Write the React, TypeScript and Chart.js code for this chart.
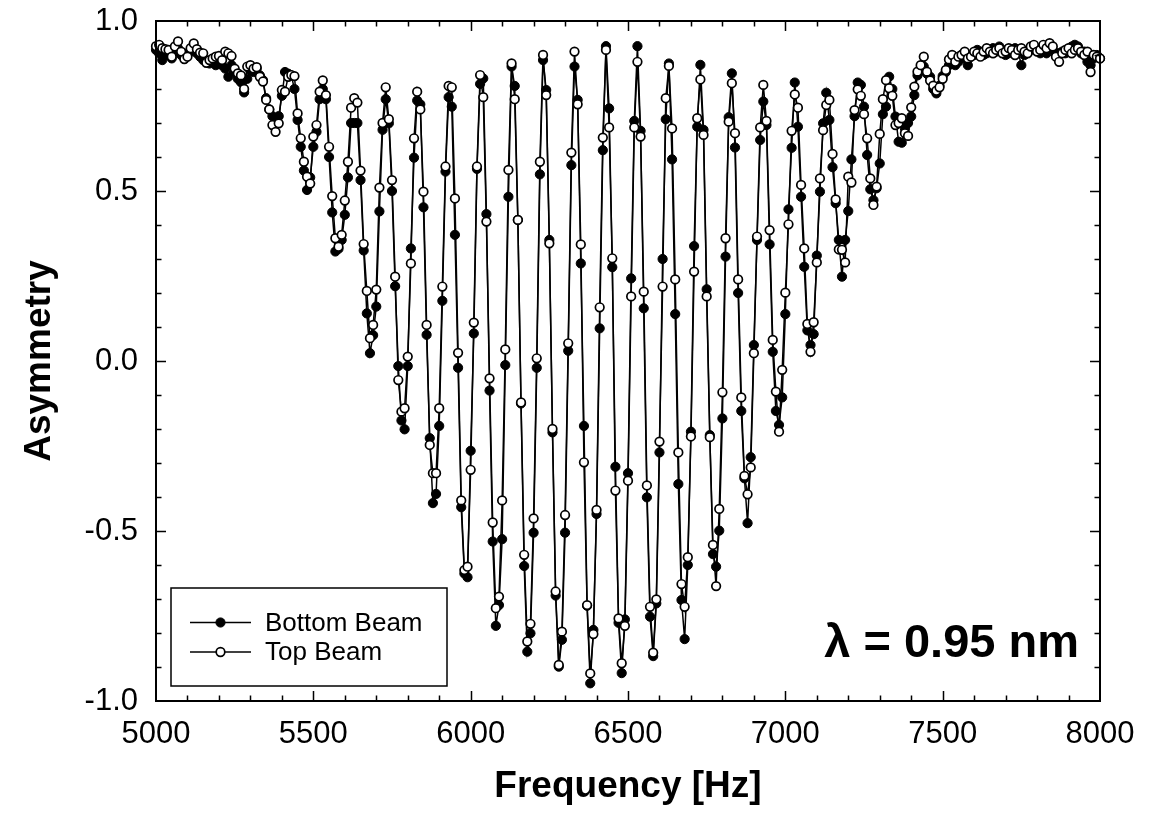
import React, { useEffect, useRef } from "react";
import { Chart, registerables } from "chart.js";

Chart.register(...registerables);

// Sampling grid of the frequency sweep (Hz)
const FREQ_START = 5000;
const FREQ_STEP = 10;

// Bottom Beam (filled circles), one row per 100 Hz (X00 ... X90)
const bottomBeam: number[] = [
  0.915, 0.905, 0.885, 0.900, 0.905, 0.890, 0.910, 0.920, 0.900, 0.895, // 5000
  0.905, 0.910, 0.915, 0.905, 0.895, 0.885, 0.880, 0.875, 0.885, 0.870, // 5100
  0.880, 0.870, 0.860, 0.836, 0.870, 0.850, 0.830, 0.820, 0.790, 0.830, // 5200
  0.855, 0.850, 0.860, 0.840, 0.826, 0.773, 0.740, 0.720, 0.700, 0.720, // 5300
  0.780, 0.850, 0.845, 0.840, 0.800, 0.709, 0.630, 0.560, 0.503, 0.540, // 5400
  0.630, 0.674, 0.770, 0.800, 0.770, 0.600, 0.437, 0.322, 0.330, 0.356, // 5500
  0.430, 0.540, 0.700, 0.700, 0.700, 0.532, 0.325, 0.140, 0.023, 0.076, // 5600
  0.160, 0.440, 0.680, 0.770, 0.699, 0.500, 0.220, -0.015, -0.175, -0.201, // 5700
  -0.015, 0.331, 0.598, 0.766, 0.755, 0.452, 0.077, -0.227, -0.418, -0.391, // 5800
  -0.191, 0.177, 0.557, 0.776, 0.748, 0.371, -0.020, -0.430, -0.625, -0.636, // 5900
  -0.264, 0.081, 0.565, 0.815, 0.831, 0.432, -0.087, -0.531, -0.779, -0.718, // 6000
  -0.524, -0.012, 0.483, 0.866, 0.809, 0.415, -0.125, -0.603, -0.855, -0.801, // 6100
  -0.505, -0.020, 0.549, 0.885, 0.797, 0.356, -0.210, -0.690, -0.899, -0.820, // 6200
  -0.505, 0.030, 0.576, 0.866, 0.768, 0.287, -0.191, -0.720, -0.948, -0.791, // 6300
  -0.450, 0.096, 0.620, 0.926, 0.743, 0.276, -0.311, -0.770, -0.918, -0.760, // 6400
  -0.330, 0.243, 0.706, 0.926, 0.677, 0.155, -0.401, -0.752, -0.868, -0.713, // 6500
  -0.269, 0.300, 0.711, 0.875, 0.593, 0.138, -0.362, -0.703, -0.818, -0.600, // 6600
  -0.208, 0.338, 0.689, 0.871, 0.680, 0.211, -0.218, -0.568, -0.605, -0.499, // 6700
  -0.169, 0.307, 0.717, 0.846, 0.628, 0.200, -0.147, -0.345, -0.477, -0.283, // 6800
  0.047, 0.356, 0.650, 0.763, 0.694, 0.343, 0.027, -0.147, -0.188, -0.107, // 6900
  0.138, 0.446, 0.627, 0.819, 0.689, 0.483, 0.277, 0.090, 0.047, 0.079, // 7000
  0.310, 0.498, 0.699, 0.789, 0.709, 0.570, 0.464, 0.356, 0.248, 0.356, // 7100
  0.441, 0.593, 0.720, 0.819, 0.812, 0.748, 0.606, 0.505, 0.473, 0.508, // 7200
  0.581, 0.726, 0.748, 0.836, 0.800, 0.719, 0.645, 0.642, 0.684, 0.700, // 7300
  0.719, 0.782, 0.840, 0.861, 0.866, 0.845, 0.836, 0.800, 0.787, 0.810, // 7400
  0.838, 0.850, 0.870, 0.880, 0.870, 0.880, 0.900, 0.890, 0.870, 0.895, // 7500
  0.900, 0.915, 0.910, 0.900, 0.905, 0.915, 0.920, 0.910, 0.925, 0.915, // 7600
  0.900, 0.905, 0.910, 0.920, 0.910, 0.870, 0.900, 0.910, 0.915, 0.920, // 7700
  0.915, 0.905, 0.910, 0.905, 0.920, 0.915, 0.900, 0.905, 0.910, 0.905, // 7800
  0.915, 0.925, 0.930, 0.925, 0.905, 0.910, 0.880, 0.870, 0.890, 0.900, // 7900
  0.890, // 8000
];

// Top Beam (open circles), one row per 100 Hz (X00 ... X90)
const topBeam: number[] = [
  0.926, 0.930, 0.920, 0.917, 0.915, 0.895, 0.925, 0.940, 0.910, 0.888, // 5000
  0.895, 0.920, 0.934, 0.917, 0.907, 0.905, 0.877, 0.885, 0.890, 0.895, // 5100
  0.897, 0.885, 0.910, 0.905, 0.897, 0.860, 0.846, 0.840, 0.800, 0.866, // 5200
  0.870, 0.860, 0.864, 0.836, 0.822, 0.768, 0.740, 0.694, 0.674, 0.699, // 5300
  0.797, 0.792, 0.836, 0.841, 0.838, 0.728, 0.655, 0.586, 0.542, 0.522, // 5400
  0.660, 0.694, 0.792, 0.825, 0.782, 0.630, 0.485, 0.361, 0.336, 0.371, // 5500
  0.472, 0.586, 0.745, 0.773, 0.760, 0.560, 0.344, 0.206, 0.067, 0.106, // 5600
  0.210, 0.510, 0.700, 0.805, 0.711, 0.532, 0.248, -0.056, -0.149, -0.139, // 5700
  0.013, 0.287, 0.655, 0.792, 0.740, 0.498, 0.106, -0.247, -0.330, -0.330, // 5800
  -0.139, 0.219, 0.572, 0.809, 0.805, 0.478, 0.024, -0.410, -0.615, -0.605, // 5900
  -0.320, 0.113, 0.572, 0.841, 0.776, 0.410, -0.051, -0.475, -0.727, -0.693, // 6000
  -0.410, 0.034, 0.562, 0.875, 0.770, 0.415, -0.122, -0.570, -0.825, -0.773, // 6100
  -0.463, 0.008, 0.586, 0.900, 0.782, 0.346, -0.200, -0.678, -0.894, -0.796, // 6200
  -0.453, 0.052, 0.613, 0.910, 0.755, 0.343, -0.298, -0.718, -0.919, -0.803, // 6300
  -0.438, 0.158, 0.657, 0.915, 0.687, 0.302, -0.381, -0.757, -0.889, -0.779, // 6400
  -0.352, 0.190, 0.687, 0.880, 0.660, 0.204, -0.366, -0.723, -0.858, -0.701, // 6500
  -0.237, 0.219, 0.773, 0.868, 0.684, 0.240, -0.269, -0.656, -0.723, -0.577, // 6600
  -0.222, 0.263, 0.714, 0.828, 0.665, 0.190, -0.224, -0.541, -0.662, -0.435, // 6700
  -0.092, 0.361, 0.704, 0.817, 0.670, 0.240, -0.107, -0.338, -0.392, -0.313, // 6800
  0.023, 0.366, 0.687, 0.812, 0.706, 0.385, 0.062, -0.090, -0.208, -0.026, // 6900
  0.201, 0.402, 0.677, 0.784, 0.745, 0.518, 0.331, 0.109, 0.027, 0.114, // 7000
  0.290, 0.537, 0.679, 0.753, 0.768, 0.609, 0.475, 0.328, 0.327, 0.290, // 7100
  0.542, 0.525, 0.738, 0.799, 0.780, 0.726, 0.655, 0.537, 0.459, 0.513, // 7200
  0.668, 0.770, 0.826, 0.802, 0.780, 0.694, 0.700, 0.714, 0.670, 0.662, // 7300
  0.746, 0.807, 0.851, 0.870, 0.895, 0.851, 0.825, 0.810, 0.795, 0.805, // 7400
  0.830, 0.856, 0.887, 0.900, 0.880, 0.895, 0.900, 0.910, 0.890, 0.895, // 7500
  0.910, 0.905, 0.895, 0.910, 0.920, 0.910, 0.905, 0.915, 0.920, 0.905, // 7600
  0.910, 0.920, 0.915, 0.900, 0.915, 0.920, 0.910, 0.905, 0.925, 0.930, // 7700
  0.910, 0.915, 0.930, 0.920, 0.935, 0.925, 0.895, 0.880, 0.905, 0.915, // 7800
  0.920, 0.905, 0.915, 0.920, 0.910, 0.900, 0.910, 0.850, 0.900, 0.895, // 7900
  0.890, // 8000
];

const frequencies: number[] = bottomBeam.map((_, i) => FREQ_START + i * FREQ_STEP);

// Axis definitions
const X_MIN = 5000;
const X_MAX = 8000;
const X_MAJOR_STEP = 500;
const X_MINOR_STEP = 100;
const Y_MIN = -1;
const Y_MAX = 1;
const Y_MAJOR_STEP = 0.5;
const Y_MINOR_STEP = 0.1;

const SERIES_LABELS = ["Bottom Beam", "Top Beam"];
const ANNOTATION = "λ = 0.95 nm";
const X_TITLE = "Frequency [Hz]";
const Y_TITLE = "Asymmetry";

const FONT = "'Liberation Sans', Arial, Helvetica, sans-serif";

const framePlugin = {
  id: "sigmaFrame",
  afterDatasetsDraw(chart: any) {
    const { ctx, chartArea } = chart;
    const { left, right, top, bottom } = chartArea;
    const xs = chart.scales.x;
    const ys = chart.scales.y;
    ctx.save();
    ctx.strokeStyle = "#000";
    ctx.lineCap = "butt";

    // inward tick marks on all four sides
    ctx.lineWidth = 1.5;
    const nx = Math.round((X_MAX - X_MIN) / X_MINOR_STEP);
    for (let i = 1; i < nx; i++) {
      const v = X_MIN + i * X_MINOR_STEP;
      const major = Math.abs(v / X_MAJOR_STEP - Math.round(v / X_MAJOR_STEP)) < 1e-6;
      const len = major ? 10 : 5.5;
      const px = Math.round(xs.getPixelForValue(v)) + 0.5;
      ctx.beginPath();
      ctx.moveTo(px, bottom);
      ctx.lineTo(px, bottom - len);
      ctx.moveTo(px, top);
      ctx.lineTo(px, top + len);
      ctx.stroke();
    }
    const ny = Math.round((Y_MAX - Y_MIN) / Y_MINOR_STEP);
    for (let i = 1; i < ny; i++) {
      const v = Y_MIN + i * Y_MINOR_STEP;
      const major = Math.abs(v / Y_MAJOR_STEP - Math.round(v / Y_MAJOR_STEP)) < 1e-6;
      const len = major ? 10 : 5.5;
      const py = Math.round(ys.getPixelForValue(v)) + 0.5;
      ctx.beginPath();
      ctx.moveTo(left, py);
      ctx.lineTo(left + len, py);
      ctx.moveTo(right, py);
      ctx.lineTo(right - len, py);
      ctx.stroke();
    }

    // frame
    ctx.lineWidth = 2;
    ctx.strokeRect(left, top, right - left, bottom - top);

    // legend box (inside plot, lower left)
    const lx = left + 15;
    const lyTop = bottom - 113;
    const lw = 276;
    const lh = 98;
    ctx.fillStyle = "#fff";
    ctx.fillRect(lx, lyTop, lw, lh);
    ctx.lineWidth = 1.5;
    ctx.strokeRect(lx, lyTop, lw, lh);

    const rows = [lyTop + 34.5, lyTop + 64];
    chart.data.datasets
      .slice()
      .sort((a: any, b: any) => a.legendIndex - b.legendIndex)
      .forEach((ds: any, k: number) => {
        const y = rows[k];
        ctx.lineWidth = 1.4;
        ctx.strokeStyle = "#000";
        ctx.beginPath();
        ctx.moveTo(lx + 19, y);
        ctx.lineTo(lx + 80, y);
        ctx.stroke();
        ctx.beginPath();
        ctx.arc(lx + 49.5, y, ds.pointRadius, 0, Math.PI * 2);
        ctx.fillStyle = ds.pointBackgroundColor;
        ctx.fill();
        ctx.lineWidth = ds.pointBorderWidth;
        ctx.strokeStyle = ds.pointBorderColor;
        ctx.stroke();
        ctx.fillStyle = "#000";
        ctx.font = `26px ${FONT}`;
        ctx.textAlign = "left";
        ctx.textBaseline = "middle";
        ctx.fillText(ds.label, lx + 94, y + 1);
      });

    // wavelength annotation
    ctx.fillStyle = "#000";
    ctx.font = `bold 47px ${FONT}`;
    ctx.textAlign = "right";
    ctx.textBaseline = "alphabetic";
    ctx.fillText(ANNOTATION, right - 21, bottom - 44);

    ctx.restore();
  },
};

export default function App() {
  const canvasRef = useRef<HTMLCanvasElement | null>(null);

  useEffect(() => {
    const canvas = canvasRef.current;
    if (!canvas) return;
    Chart.defaults.font.family = FONT;
    Chart.defaults.color = "#000";

    const chart = new Chart(canvas, {
      type: "scatter",
      data: {
        datasets: [
          {
            label: SERIES_LABELS[1],
            legendIndex: 1,
            data: frequencies.map((f, i) => ({ x: f, y: topBeam[i] })),
            showLine: true,
            borderColor: "#000",
            borderWidth: 1.5,
            pointRadius: 4.3,
            pointHoverRadius: 4.3,
            pointBackgroundColor: "#fff",
            pointBorderColor: "#000",
            pointBorderWidth: 1.7,
            order: 1,
            clip: false,
          } as any,
          {
            label: SERIES_LABELS[0],
            legendIndex: 0,
            data: frequencies.map((f, i) => ({ x: f, y: bottomBeam[i] })),
            showLine: true,
            borderColor: "#000",
            borderWidth: 1.5,
            pointRadius: 4.6,
            pointHoverRadius: 4.6,
            pointBackgroundColor: "#000",
            pointBorderColor: "#000",
            pointBorderWidth: 1,
            order: 2,
            clip: false,
          } as any,
        ],
      },
      options: {
        responsive: false,
        animation: false,
        devicePixelRatio: 1,
        layout: { padding: { top: 21, right: 58, left: 0, bottom: 0 } },
        plugins: {
          legend: { display: false },
          tooltip: { enabled: false },
        },
        scales: {
          x: {
            type: "linear",
            min: X_MIN,
            max: X_MAX,
            afterFit: (s: any) => {
              s.height = 120;
              s.paddingLeft = 0;
              s.paddingRight = 0;
            },
            grid: { display: false, drawTicks: false },
            border: { display: false },
            ticks: {
              stepSize: X_MAJOR_STEP,
              padding: 15,
              color: "#000",
              font: { size: 31 },
              callback: (v: any) => String(v),
              maxRotation: 0,
            },
            title: {
              display: true,
              text: X_TITLE,
              color: "#000",
              font: { size: 37, weight: "bold" },
              padding: { top: 0, bottom: 12 },
            },
          },
          y: {
            type: "linear",
            min: Y_MIN,
            max: Y_MAX,
            afterFit: (s: any) => {
              s.width = 156;
              s.paddingTop = 0;
              s.paddingBottom = 0;
            },
            grid: { display: false, drawTicks: false },
            border: { display: false },
            ticks: {
              stepSize: Y_MAJOR_STEP,
              padding: 18,
              color: "#000",
              font: { size: 31 },
              callback: (v: any) => Number(v).toFixed(1),
            },
            title: {
              display: true,
              text: Y_TITLE,
              color: "#000",
              font: { size: 37, weight: "bold" },
              padding: { top: 18, bottom: 0 },
            },
          },
        },
      } as any,
      plugins: [framePlugin],
    });

    return () => {
      chart.destroy();
    };
  }, []);

  return (
    <div style={{ position: "fixed", left: 0, top: 0, width: 1158, height: 821, background: "#fff" }}>
      <canvas ref={canvasRef} width={1158} height={821} style={{ width: 1158, height: 821, display: "block" }} />
    </div>
  );
}
